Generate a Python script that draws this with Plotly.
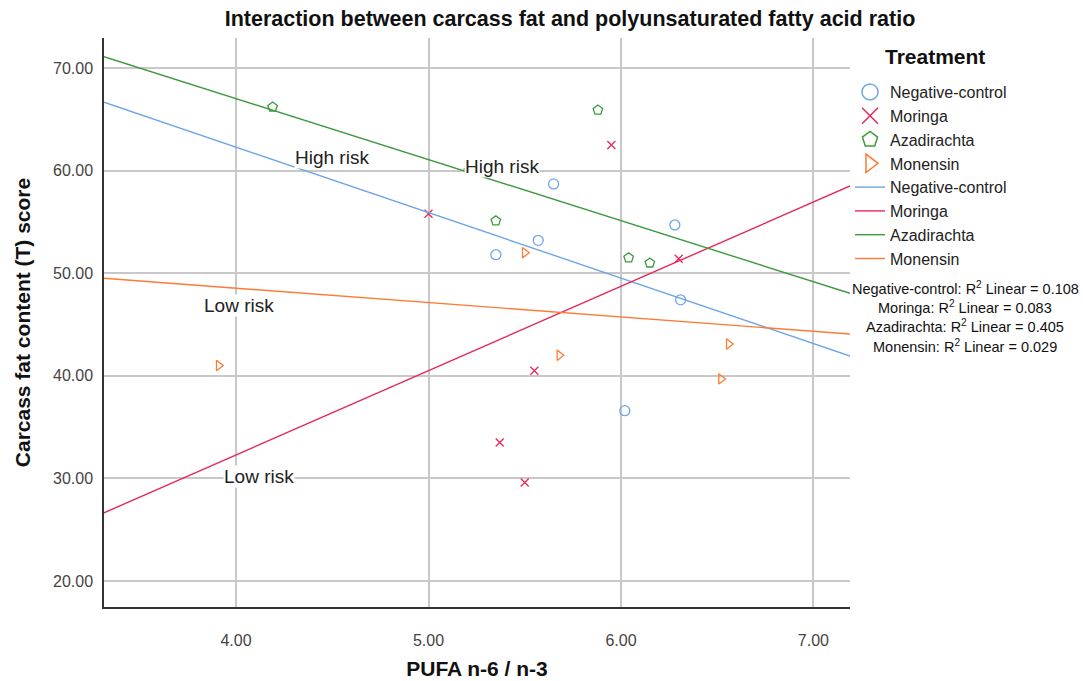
import plotly.graph_objects as go

# ---- data ----
treatments = ["Negative-control", "Moringa", "Azadirachta", "Monensin"]

nc_x = [5.35, 5.57, 5.65, 6.28, 6.31, 6.02]
nc_y = [51.8, 53.2, 58.7, 54.7, 47.4, 36.6]
mor_x = [5.00, 5.95, 6.30, 5.55, 5.37, 5.50]
mor_y = [55.8, 62.5, 51.4, 40.5, 33.5, 29.6]
aza_x = [4.19, 5.21, 5.88, 5.35, 6.04, 6.15]
aza_y = [66.2, 60.0, 65.9, 55.1, 51.5, 51.0]
mon_x = [3.91, 5.50, 5.68, 6.56, 6.52, 5.21]
mon_y = [41.0, 52.0, 42.0, 43.1, 39.7, 60.0]

# fit lines: y at left and right ends of the x-range
fit_x = [3.314, 7.19]
fit_nc = [66.66, 41.93]
fit_mor = [26.65, 58.5]
fit_aza = [71.1, 48.04]
fit_mon = [49.5, 44.07]

r2_values = ["0.108", "0.083", "0.405", "0.029"]

risk_labels = ["High risk", "High risk", "Low risk", "Low risk"]
risk_x = [4.50, 5.38, 4.016, 4.12]
risk_y = [61.3, 60.35, 46.9, 30.2]

x_ticks = [4, 5, 6, 7]
y_ticks = [20, 30, 40, 50, 60, 70]

# ---- styling ----
colors = ["#6ea6ea", "#e5285a", "#3d9a3d", "#ff7a35"]
symbols = ["circle-open", "x-thin-open", "pentagon-open", "triangle-right-open"]
sizes = [10, 8, 10, 9]
FONT = "Liberation Sans, Arial, sans-serif"

xs = [nc_x, mor_x, aza_x, mon_x]
ys = [nc_y, mor_y, aza_y, mon_y]
fits = [fit_nc, fit_mor, fit_aza, fit_mon]

fig = go.Figure()

# points
for name, x, y, c, s, sz in zip(treatments, xs, ys, colors, symbols, sizes):
    fig.add_trace(go.Scatter(x=x, y=y, mode="markers", name=name, showlegend=False,
                             marker=dict(symbol=s, size=sz, color=c, line=dict(width=1.3, color=c))))
# fit lines
for name, f, c in zip(treatments, fits, colors):
    fig.add_trace(go.Scatter(x=fit_x, y=f, mode="lines", name=name, showlegend=False,
                             line=dict(color=c, width=1.4)))
# legend entries (markers then lines)
for name, c, s in zip(treatments, colors, symbols):
    fig.add_trace(go.Scatter(x=[None], y=[None], mode="markers", name=name,
                             marker=dict(symbol=s, size=16, color=c, line=dict(width=1.5, color=c))))
for name, c in zip(treatments, colors):
    fig.add_trace(go.Scatter(x=[None], y=[None], mode="lines", name=name,
                             line=dict(color=c, width=1.4)))

W, H = 1083, 681
L, R, T, B = 104, 233, 38, 74
PW, PH = W - L - R, H - T - B

def px_x(px):
    return (px - L) / PW

def px_y(py):
    return (H - B - py) / PH

annotations = []
for t, x, y in zip(risk_labels, risk_x, risk_y):
    annotations.append(dict(x=x, y=y, xref="x", yref="y", text=t, showarrow=False,
                            font=dict(family=FONT, size=19, color="#222"),
                            bgcolor="white", borderpad=0))

r2_y_px = [288, 307, 326, 346]
for name, r2, py in zip(treatments, r2_values, r2_y_px):
    annotations.append(dict(x=px_x(965), y=px_y(py), xref="paper", yref="paper",
                            text=f"{name}: R<sup>2</sup> Linear = {r2}", showarrow=False,
                            xanchor="center", yanchor="middle",
                            font=dict(family=FONT, size=14.5, color="#111")))

annotations.append(dict(x=px_x(935), y=px_y(57), xref="paper", yref="paper",
                        text="Treatment", showarrow=False, xanchor="center", yanchor="middle",
                        font=dict(family=FONT, size=21, color="#111", weight="bold")))

fig.update_layout(
    width=W, height=H,
    margin=dict(l=L, r=R, t=T, b=B),
    paper_bgcolor="white", plot_bgcolor="white",
    font=dict(family=FONT, color="#222"),
    title=dict(text="Interaction between carcass fat and polyunsaturated fatty acid ratio",
               x=570 / W, xanchor="center", xref="container",
               y=1 - 18 / H, yanchor="middle", yref="container",
               font=dict(family=FONT, size=21.5, color="#111", weight="bold")),
    legend=dict(x=px_x(850), xanchor="left", y=px_y(75), yanchor="top",
                font=dict(family=FONT, size=16, color="#222"),
                bgcolor="rgba(0,0,0,0)", tracegroupgap=0),
    annotations=annotations,
)

fig.update_xaxes(range=[fit_x[0], fit_x[1]], tickvals=x_ticks,
                 ticktext=[f"{v:.2f}" for v in x_ticks],
                 showgrid=True, gridcolor="#c8c8c8", gridwidth=1.5,
                 showline=True, linecolor="#333", linewidth=1.5, zeroline=False,
                 ticks="", ticklabelstandoff=18, automargin=False,
                 tickfont=dict(family=FONT, size=16, color="#444"),
                 title=dict(text="PUFA n-6 / n-3", standoff=13,
                            font=dict(family=FONT, size=21, color="#111", weight="bold")))
fig.update_yaxes(range=[17.47, 72.92], tickvals=y_ticks,
                 ticktext=[f"{v:.2f}" for v in y_ticks],
                 showgrid=True, gridcolor="#c8c8c8", gridwidth=1.5,
                 showline=True, linecolor="#333", linewidth=1.5, zeroline=False,
                 ticks="", ticklabelstandoff=6, automargin=False,
                 tickfont=dict(family=FONT, size=16, color="#444"),
                 title=dict(text="Carcass fat content (T) score", standoff=17,
                            font=dict(family=FONT, size=21, color="#111", weight="bold")))

fig.write_html("out.html")
